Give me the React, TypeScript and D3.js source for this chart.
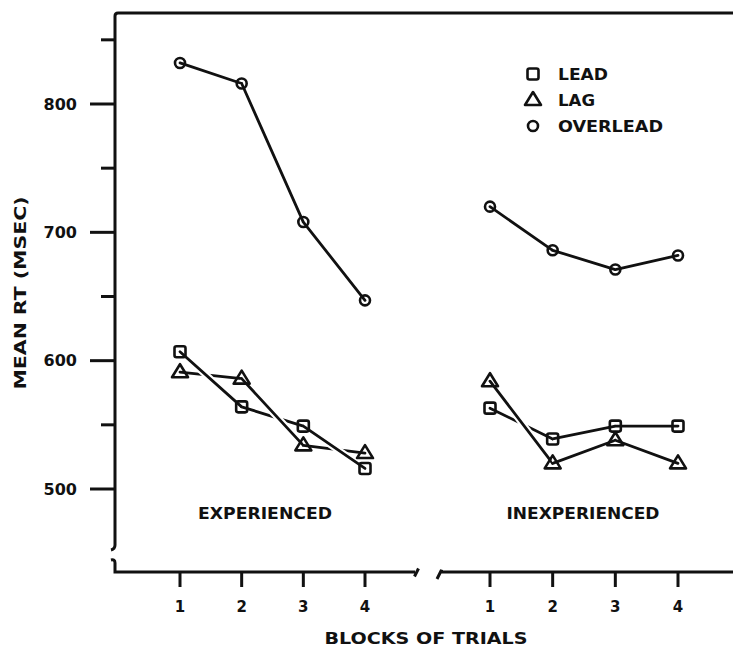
import React from "react";
import * as d3 from "d3";

const blocks = [1, 2, 3, 4];
const expLead = [607, 564, 549, 516];
const expLag = [591, 586, 534, 528];
const expOverlead = [832, 816, 708, 647];
const inexpLead = [563, 539, 549, 549];
const inexpLag = [584, 520, 538, 520];
const inexpOverlead = [720, 686, 671, 682];
const yMajorTicks = [500, 600, 700, 800];
const yMinorTicks = [550, 650, 750, 850];
const seriesNames = ["LEAD", "LAG", "OVERLEAD"];
const panelNames = ["EXPERIENCED", "INEXPERIENCED"];

const FONT = "'DejaVu Sans', sans-serif";
const INK = "#111";

const y = d3.scaleLinear().domain([500, 800]).range([489, 104]);
const xLeft = d3.scaleLinear().domain([1, 4]).range([180, 365]);
const xRight = d3.scaleLinear().domain([1, 4]).range([490, 678]);

type Shape = "square" | "triangle" | "circle";

function Marker({ shape, cx, cy }: { shape: Shape; cx: number; cy: number }) {
  const common = { fill: "none", stroke: INK, strokeWidth: 2.6 };
  if (shape === "square")
    return <rect x={cx - 5.5} y={cy - 5.5} width={11} height={11} rx={2} {...common} />;
  if (shape === "triangle")
    return (
      <path
        d={`M${cx},${cy - 8} L${cx + 8},${cy + 5} L${cx - 8},${cy + 5} Z`}
        strokeLinejoin="round"
        {...common}
      />
    );
  return <circle cx={cx} cy={cy} r={5} {...common} />;
}

export default function App() {
  const line = d3.line<[number, number]>();
  const panels = [
    {
      x: xLeft,
      series: [expLead, expLag, expOverlead],
      // segment draw order: [seriesIndex, segmentIndex]; later ones cut earlier ones
      order: [[1, 0], [0, 0], [0, 1], [1, 1], [1, 2], [0, 2], [2, 0], [2, 1], [2, 2]],
      label: panelNames[0],
      labelX: 265,
      labelLen: 134,
    },
    {
      x: xRight,
      series: [inexpLead, inexpLag, inexpOverlead],
      order: [[0, 0], [1, 0], [1, 1], [1, 2], [0, 1], [0, 2], [2, 0], [2, 1], [2, 2]],
      label: panelNames[1],
      labelX: 583,
      labelLen: 153,
    },
  ];
  const shapes: Shape[] = ["square", "triangle", "circle"];
  const legendLens = [50, 37, 105];

  return (
    <svg
      width={733}
      height={650}
      style={{ position: "absolute", left: 0, top: 0, background: "#fff" }}
      fontFamily={FONT}
    >
      <rect width={733} height={650} fill="#fff" />
      {/* axes frame */}
      <path
        d="M733,13 L118,13 Q115,13 115,16 L115,545 Q115,549 111,550"
        fill="none"
        stroke={INK}
        strokeWidth={3}
      />
      <path
        d="M111,560 Q115,559 115,563 L115,572 L415,572 M414.5,576.5 L418.5,568.5 M437,579 L441.5,570 L441.5,572 L733,572"
        fill="none"
        stroke={INK}
        strokeWidth={3}
      />
      {yMajorTicks.map((t) => (
        <g key={t}>
          <line x1={90} x2={115} y1={y(t)} y2={y(t)} stroke={INK} strokeWidth={3} />
          <text
            x={77}
            y={y(t)}
            textAnchor="end"
            dominantBaseline="central"
            fontSize={16}
            fontWeight="bold"
            fill={INK}
          >
            {t}
          </text>
        </g>
      ))}
      {yMinorTicks.map((t) => (
        <line key={t} x1={101} x2={115} y1={y(t)} y2={y(t)} stroke={INK} strokeWidth={3} />
      ))}
      {panels.map((p, pi) =>
        blocks.map((b) => (
          <g key={`${pi}-${b}`}>
            <line x1={p.x(b)} x2={p.x(b)} y1={572} y2={587} stroke={INK} strokeWidth={3} />
            <text
              x={p.x(b)}
              y={607}
              textAnchor="middle"
              dominantBaseline="central"
              fontSize={15}
              fontWeight="bold"
              fill={INK}
            >
              {b}
            </text>
          </g>
        ))
      )}
      <text
        x={426}
        y={638}
        textAnchor="middle"
        dominantBaseline="central"
        fontSize={16}
        fontWeight="bold"
        textLength={203}
        lengthAdjust="spacingAndGlyphs"
        fill={INK}
      >
        BLOCKS OF TRIALS
      </text>
      <text
        transform="translate(20,293) rotate(-90)"
        textAnchor="middle"
        dominantBaseline="central"
        fontSize={16}
        fontWeight="bold"
        textLength={193}
        lengthAdjust="spacingAndGlyphs"
        fill={INK}
      >
        MEAN RT (MSEC)
      </text>
      {/* data */}
      {panels.map((p, pi) => (
        <g key={pi}>
          {p.order.map(([si, gi]) => {
            const vals = p.series[si];
            const d = line([
              [p.x(blocks[gi]), y(vals[gi])],
              [p.x(blocks[gi + 1]), y(vals[gi + 1])],
            ]) as string;
            return (
              <g key={`${si}-${gi}`}>
                <path d={d} fill="none" stroke="#fff" strokeWidth={7} />
                <path d={d} fill="none" stroke={INK} strokeWidth={2.8} strokeLinecap="round" />
              </g>
            );
          })}
          {p.series.map((vals, si) =>
            vals.map((v, i) => (
              <Marker key={`${si}-${i}`} shape={shapes[si]} cx={p.x(blocks[i])} cy={y(v)} />
            ))
          )}
          <text
            x={p.labelX}
            y={513}
            textAnchor="middle"
            dominantBaseline="central"
            fontSize={16}
            fontWeight="bold"
            textLength={p.labelLen}
            lengthAdjust="spacingAndGlyphs"
            fill={INK}
          >
            {p.label}
          </text>
        </g>
      ))}
      {/* legend */}
      {seriesNames.map((n, i) => (
        <g key={n}>
          <Marker shape={shapes[i]} cx={533} cy={74 + i * 26} />
          <text
            x={558}
            y={74 + i * 26}
            dominantBaseline="central"
            fontSize={16}
            fontWeight="bold"
            textLength={legendLens[i]}
            lengthAdjust="spacingAndGlyphs"
            fill={INK}
          >
            {n}
          </text>
        </g>
      ))}
    </svg>
  );
}
